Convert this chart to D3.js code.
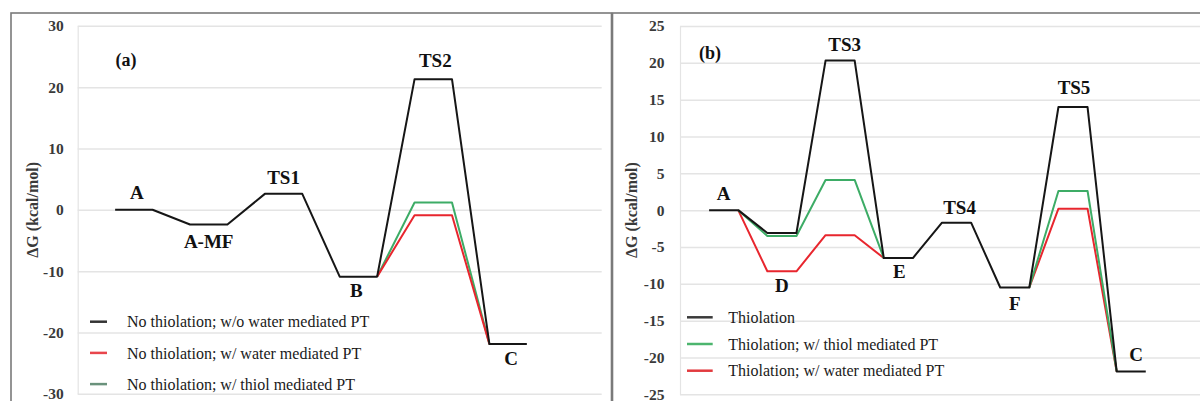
<!DOCTYPE html>
<html>
<head>
<meta charset="utf-8">
<script src="https://cdn.jsdelivr.net/npm/d3@7"></script>
<style>
  body { margin: 0; background: #fff; }
  svg { display: block; font-family: 'Liberation Serif', 'Times New Roman', serif; }
</style>
</head>
<body>
<svg id="chart"></svg>
<script>
const width = 1200;
const height = 401;

// panel (a): no thiolation
const stagesA = ['A', 'A-MF', 'TS1', 'B', 'TS2', 'C'];
const noThiolNoWater = [0, -2.4, 2.6, -10.9, 21.3, -21.9];
const noThiolWater = [0, -2.4, 2.6, -10.9, -0.9, -21.9];
const noThiolThiol = [0, -2.4, 2.6, -10.9, 1.2, -21.9];
const legendA = ['No thiolation; w/o water mediated PT', 'No thiolation; w/ water mediated PT', 'No thiolation; w/ thiol mediated PT'];
const ticksA = [-30, -20, -10, 0, 10, 20, 30];

// panel (b): thiolation
const stagesB = ['A', 'D', 'TS3', 'E', 'TS4', 'F', 'TS5', 'C'];
const thiolation = [0, -3.1, 20.3, -6.5, -1.7, -10.5, 14.0, -21.9];
const thiolThiol = [0, -3.5, 4.1, -6.5, -1.7, -10.5, 2.6, -21.9];
const thiolWater = [0, -8.3, -3.4, -6.5, -1.7, -10.5, 0.2, -21.9];
const legendB = ['Thiolation', 'Thiolation; w/ thiol mediated PT', 'Thiolation; w/ water mediated PT'];
const ticksB = [-25, -20, -15, -10, -5, 0, 5, 10, 15, 20, 25];

const black = '#161616';
const red = '#e8262e';
const green = '#3dac66';

const svg = d3.select('#chart')
    .attr('width', width)
    .attr('height', height);

// frames round each panel
svg.append('rect').attr('x', 11).attr('y', 13).attr('width', 600.5).attr('height', 420)
    .attr('fill', 'none').attr('stroke', '#7a7a7a').attr('stroke-width', 1.6);
svg.append('rect').attr('x', 612.5).attr('y', 13).attr('width', 620).attr('height', 420)
    .attr('fill', 'none').attr('stroke', '#7a7a7a').attr('stroke-width', 1.6);

// each stage is a short flat plateau: two points at the same energy
function plateau(values) {
    return values.flatMap((v, i) => [{i: 2 * i, v: v}, {i: 2 * i + 1, v: v}]);
}

function drawPanel(p) {
    const x = d3.scaleLinear().domain([-1, p.stages.length * 2 + 1]).range(p.xRange);
    const y = d3.scaleLinear().domain(d3.extent(p.ticks)).range(p.yRange);
    const plotW = p.xRange[1] - p.xRange[0];

    const axis = svg.append('g')
        .attr('transform', `translate(${p.xRange[0]}, 0)`)
        .call(d3.axisLeft(y).tickValues(p.ticks).tickSizeInner(-plotW).tickSizeOuter(0)
            .tickPadding(p.tickPad).tickFormat(d => d.toString()));
    axis.select('.domain').attr('stroke', '#e4e4e4').attr('stroke-width', 1.2);
    axis.selectAll('.tick line').attr('stroke', '#e4e4e4').attr('stroke-width', 1.5);
    axis.selectAll('.tick text')
        .attr('fill', '#3a3a3a')
        .style('font-size', '15.5px')
        .style('font-weight', 'bold')
        .style('font-family', "'Liberation Serif', serif");

    svg.append('text')
        .attr('transform', `translate(${p.titleX}, ${y(0)}) rotate(-90)`)
        .attr('text-anchor', 'middle')
        .attr('dy', '0.35em')
        .attr('fill', '#3a3a3a')
        .style('font-size', '16px')
        .style('font-weight', 'bold')
        .text('ΔG (kcal/mol)');

    const base = plateau(p.series[p.series.length - 1].values);
    const same = (pts, j) => pts[j].v === base[j].v;

    p.series.forEach((s, k) => {
        const pts = plateau(s.values);
        const isBase = k === p.series.length - 1;
        // coloured curves only where they leave the black one
        const line = d3.line()
            .defined((d, j) => isBase || !same(pts, j) ||
                (j > 0 && !same(pts, j - 1)) || (j < pts.length - 1 && !same(pts, j + 1)))
            .x(d => x(d.i)).y(d => y(d.v));
        svg.append('path')
            .datum(pts)
            .attr('fill', 'none')
            .attr('stroke', s.color)
            .attr('stroke-width', 2)
            .attr('stroke-linejoin', 'round')
            .attr('d', line);
    });

    // stage names above (dy < 0) the highest or below the lowest curve
    p.stages.forEach((name, i) => {
        const vals = p.series.map(s => s.values[i]);
        const [dx, dy] = p.labelOffsets[i];
        const ref = dy < 0 ? d3.max(vals) : d3.min(vals);
        svg.append('text')
            .attr('x', (x(2 * i) + x(2 * i + 1)) / 2 + dx)
            .attr('y', y(ref) + dy)
            .attr('text-anchor', 'middle')
            .attr('fill', '#111')
            .style('font-size', '19px')
            .style('font-weight', 'bold')
            .text(name);
    });

    svg.append('text')
        .attr('x', p.tagPos[0]).attr('y', p.tagPos[1])
        .attr('text-anchor', 'middle')
        .attr('fill', '#111')
        .style('font-size', '18px')
        .style('font-weight', 'bold')
        .text(p.tag);

    p.legend.forEach((item, k) => {
        const ly = p.legendY + k * p.legendStep;
        svg.append('line')
            .attr('x1', p.legendX[0]).attr('x2', p.legendX[1])
            .attr('y1', ly).attr('y2', ly)
            .attr('stroke', item.color)
            .attr('stroke-width', 2.5);
        svg.append('text')
            .attr('x', p.legendX[2]).attr('y', ly)
            .attr('dy', '0.35em')
            .attr('fill', '#1a1a1a')
            .style('font-size', '16px')
            .text(item.name);
    });
}

drawPanel({
    stages: stagesA,
    series: [
        {values: noThiolThiol, color: green},
        {values: noThiolWater, color: red},
        {values: noThiolNoWater, color: black}
    ],
    legend: [
        {name: legendA[0], color: '#333'},
        {name: legendA[1], color: '#e8454c'},
        {name: legendA[2], color: '#6a927c'}
    ],
    ticks: ticksA,
    xRange: [77.7, 601.7],
    yRange: [393.8, 25.8],
    tickPad: 14,
    titleX: 32,
    labelOffsets: [[3, -10.5], [0, 23.5], [0, -10], [-2, 20.5], [2, -12], [3, 20.7]],
    tag: '(a)', tagPos: [126, 65.5],
    legendX: [90, 107, 127], legendY: 321.7, legendStep: 31.2
});

drawPanel({
    stages: stagesB,
    series: [
        {values: thiolWater, color: red},
        {values: thiolThiol, color: green},
        {values: thiolation, color: black}
    ],
    legend: [
        {name: legendB[0], color: '#3a3a3a'},
        {name: legendB[1], color: '#4cb56e'},
        {name: legendB[2], color: '#e23a3e'}
    ],
    ticks: ticksB,
    xRange: [680, 1204],
    yRange: [394.3, 26],
    tickPad: 15.5,
    titleX: 631.7,
    labelOffsets: [[0, -10.5], [0, 21], [4.5, -10], [1, 20], [3, -9], [0, 23], [1, -13], [5, -10]],
    tag: '(b)', tagPos: [710, 58.5],
    legendX: [687, 712.7, 728.3], legendY: 317.3, legendStep: 26.7
});
</script>
</body>
</html>
